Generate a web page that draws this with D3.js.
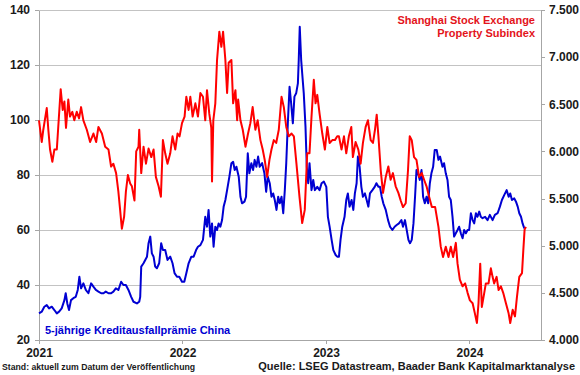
<!DOCTYPE html>
<html>
<head>
<meta charset="utf-8">
<script src="https://cdn.jsdelivr.net/npm/d3@7"></script>
<style>
  html, body { margin: 0; padding: 0; background: #fff; }
  svg { display: block; font-family: "Liberation Sans", Arial, sans-serif; }
  .axis text { font-size: 12px; font-weight: bold; fill: #1a1a1a; }
  .axis path, .axis line { stroke: #a6a6a6; }
</style>
</head>
<body>
<svg id="chart" width="580" height="375"></svg>
<script>
"use strict";

// 5-year CDS China (left axis), time as decimal years since 2021-01-01
const cdsYears = [
  0.000, 0.019, 0.037, 0.054, 0.070, 0.089, 0.107, 0.124, 0.140, 0.158, 0.177, 0.186, 0.197, 0.209,
  0.223, 0.239, 0.256, 0.270, 0.281, 0.293, 0.309, 0.326, 0.344, 0.363, 0.379, 0.396, 0.414, 0.433,
  0.449, 0.465, 0.484, 0.502, 0.518, 0.535, 0.553, 0.572, 0.588, 0.605, 0.623, 0.642, 0.658, 0.682,
  0.698, 0.705, 0.712, 0.728, 0.740, 0.752, 0.763, 0.775, 0.786, 0.798, 0.809, 0.821, 0.837, 0.851,
  0.863, 0.879, 0.895, 0.914, 0.930, 0.944, 0.961, 0.977, 0.996, 1.012, 1.026, 1.042, 1.061, 1.077,
  1.094, 1.107, 1.124, 1.142, 1.158, 1.170, 1.181, 1.193, 1.205, 1.216, 1.228, 1.240, 1.251, 1.263,
  1.275, 1.286, 1.298, 1.310, 1.326, 1.340, 1.352, 1.363, 1.375, 1.391, 1.403, 1.414, 1.431, 1.442,
  1.454, 1.465, 1.479, 1.491, 1.502, 1.514, 1.526, 1.537, 1.554, 1.570, 1.582, 1.593, 1.607, 1.619,
  1.631, 1.642, 1.654, 1.666, 1.677, 1.689, 1.701, 1.712, 1.722, 1.733, 1.745, 1.756, 1.768, 1.779,
  1.791, 1.803, 1.809, 1.816, 1.826, 1.833, 1.844, 1.856, 1.865, 1.875, 1.884, 1.898, 1.910, 1.921,
  1.938, 1.954, 1.968, 1.984, 2.001, 2.012, 2.024, 2.038, 2.050, 2.066, 2.077, 2.089, 2.100, 2.112,
  2.128, 2.140, 2.151, 2.163, 2.177, 2.189, 2.200, 2.212, 2.221, 2.233, 2.245, 2.256, 2.270, 2.282,
  2.294, 2.305, 2.322, 2.338, 2.350, 2.364, 2.375, 2.387, 2.398, 2.415, 2.431, 2.445, 2.461, 2.477,
  2.491, 2.507, 2.524, 2.535, 2.549, 2.561, 2.573, 2.584, 2.596, 2.608, 2.619, 2.629, 2.640, 2.652,
  2.664, 2.675, 2.687, 2.699, 2.710, 2.722, 2.733, 2.745, 2.756, 2.770, 2.782, 2.793, 2.810, 2.821,
  2.833, 2.845, 2.856, 2.868, 2.880, 2.891, 2.903, 2.915, 2.926, 2.938, 2.950, 2.961, 2.973, 2.985,
  2.996, 3.008, 3.020, 3.031, 3.043, 3.054, 3.066, 3.077, 3.089, 3.107, 3.124, 3.140, 3.159, 3.175,
  3.194, 3.210, 3.224, 3.240, 3.257, 3.271, 3.282, 3.294, 3.310, 3.322, 3.334, 3.345, 3.357, 3.368,
  3.380
];
const cdsValues = [
  29.7, 30.3, 32.1, 32.7, 31.5, 32.1, 30.9, 29.7, 30.3, 31.5, 34.5, 37.0, 33.3, 30.9,
  34.5, 35.2, 35.7, 38.2, 43.0, 38.8, 40.6, 38.2, 37.0, 40.6, 39.4, 38.2, 37.6, 37.0,
  37.0, 37.6, 37.0, 37.0, 37.6, 38.8, 38.2, 41.2, 40.0, 40.0, 38.2, 35.7, 33.9, 33.3,
  33.9, 35.7, 46.7, 47.9, 49.1, 50.3, 55.2, 57.6, 51.5, 50.3, 46.7, 46.1, 47.9, 55.2,
  52.7, 52.7, 49.1, 50.3, 47.9, 44.3, 43.0, 43.0, 41.2, 41.2, 44.3, 47.9, 50.3, 50.3,
  52.7, 53.9, 54.5, 56.4, 64.8, 61.2, 67.3, 57.6, 62.4, 53.9, 61.2, 60.0, 62.4, 61.2,
  63.6, 68.5, 70.9, 74.5, 79.4, 84.3, 84.8, 81.8, 83.0, 79.4, 72.1, 69.7, 70.3, 72.1,
  87.9, 80.6, 84.3, 81.8, 85.5, 83.0, 86.7, 83.0, 84.3, 80.6, 73.9, 79.4, 77.0, 72.1,
  73.3, 70.9, 67.3, 72.1, 69.7, 72.1, 66.1, 74.5, 84.3, 98.8, 112.1, 106.1, 98.8, 108.5,
  109.7, 113.3, 121.8, 133.9, 121.8, 117.0, 109.7, 97.6, 83.0, 77.0, 84.3, 74.5, 78.2, 74.5,
  75.7, 74.5, 77.0, 77.6, 75.7, 64.8, 61.2, 56.4, 52.7, 50.9, 50.3, 50.3, 56.4, 61.2,
  64.8, 70.9, 73.3, 68.5, 70.9, 67.3, 73.3, 77.0, 86.7, 83.0, 75.7, 72.1, 73.3, 70.9,
  68.5, 73.3, 74.5, 75.7, 77.0, 75.7, 75.7, 72.1, 69.7, 67.3, 63.6, 61.2, 60.0, 61.2,
  61.8, 62.4, 63.6, 61.2, 63.6, 60.0, 56.4, 55.2, 56.4, 62.4, 72.1, 81.8, 80.6, 78.2,
  81.8, 72.1, 69.7, 72.1, 69.7, 77.0, 80.6, 83.0, 89.1, 89.1, 85.5, 86.7, 83.0, 84.3,
  80.6, 78.2, 72.1, 70.9, 64.8, 57.6, 58.8, 60.0, 61.2, 58.8, 57.0, 60.0, 58.8, 60.0,
  60.0, 66.1, 63.6, 62.4, 66.1, 64.8, 66.7, 64.8, 64.3, 64.8, 63.6, 65.5, 63.6, 65.5,
  66.1, 68.5, 70.9, 72.7, 74.5, 72.1, 73.3, 70.9, 71.5, 70.3, 68.5, 66.1, 64.8, 62.4,
  60.6
];

// Shanghai Stock Exchange Property Subindex (right axis)
const idxYears = [
  0.000, 0.019, 0.030, 0.054, 0.065, 0.077, 0.093, 0.107, 0.124, 0.135, 0.151, 0.165, 0.177, 0.188,
  0.204, 0.216, 0.232, 0.246, 0.263, 0.279, 0.293, 0.309, 0.333, 0.356, 0.379, 0.398, 0.414, 0.438,
  0.461, 0.484, 0.502, 0.518, 0.537, 0.553, 0.565, 0.577, 0.593, 0.605, 0.619, 0.635, 0.647, 0.665,
  0.677, 0.693, 0.698, 0.712, 0.728, 0.745, 0.763, 0.782, 0.798, 0.814, 0.833, 0.849, 0.863, 0.879,
  0.895, 0.914, 0.930, 0.949, 0.965, 0.979, 0.996, 1.014, 1.026, 1.042, 1.054, 1.070, 1.089, 1.107,
  1.124, 1.142, 1.158, 1.170, 1.186, 1.200, 1.205, 1.214, 1.228, 1.240, 1.256, 1.270, 1.282, 1.298,
  1.310, 1.321, 1.340, 1.352, 1.368, 1.380, 1.387, 1.403, 1.419, 1.438, 1.456, 1.472, 1.488, 1.507,
  1.523, 1.542, 1.558, 1.572, 1.589, 1.605, 1.619, 1.635, 1.652, 1.670, 1.689, 1.705, 1.722, 1.740,
  1.759, 1.775, 1.793, 1.814, 1.833, 1.851, 1.868, 1.884, 1.898, 1.914, 1.926, 1.938, 1.954, 1.973,
  1.991, 2.008, 2.024, 2.043, 2.061, 2.077, 2.089, 2.107, 2.124, 2.140, 2.158, 2.175, 2.186, 2.205,
  2.224, 2.240, 2.256, 2.275, 2.291, 2.310, 2.326, 2.340, 2.352, 2.364, 2.380, 2.396, 2.415, 2.433,
  2.449, 2.465, 2.484, 2.503, 2.519, 2.535, 2.554, 2.570, 2.582, 2.596, 2.612, 2.629, 2.647, 2.666,
  2.682, 2.699, 2.717, 2.736, 2.759, 2.782, 2.798, 2.814, 2.833, 2.852, 2.868, 2.884, 2.903, 2.915,
  2.931, 2.950, 2.968, 2.985, 3.001, 3.020, 3.036, 3.050, 3.061, 3.073, 3.084, 3.101, 3.112, 3.131,
  3.147, 3.159, 3.170, 3.187, 3.201, 3.217, 3.233, 3.252, 3.271, 3.282, 3.299, 3.315, 3.329, 3.345,
  3.364, 3.373, 3.382, 3.391
];
const idxValues = [
  6330, 6100, 6230, 6460, 6230, 6020, 5890, 6020, 6020, 6280, 6660, 6440, 6530, 6250,
  6550, 6370, 6420, 6330, 6420, 6350, 6470, 6330, 6230, 6100, 6190, 6100, 6260, 6190,
  6050, 6020, 5840, 5870, 5770, 5570, 5380, 5180, 5310, 5570, 5750, 5660, 5630, 5480,
  6000, 6050, 6230, 5770, 6050, 5870, 6030, 5940, 6020, 5730, 5630, 5520, 6120, 5980,
  5870, 5980, 6160, 6020, 6190, 6160, 6300, 6370, 6580, 6440, 6580, 6370, 6510, 6370,
  6620, 6580, 6330, 6650, 6400, 6250, 5680, 6330, 6510, 6970, 7270, 7110, 7270, 6970,
  6620, 6940, 6970, 6510, 6650, 6330, 6550, 6330, 6230, 6050, 6190, 6300, 6470, 6230,
  6330, 6120, 6020, 5910, 5730, 5910, 6020, 6120, 6090, 6230, 6580, 6470, 6260, 6160,
  6190, 6160, 5870, 5520, 5240, 5380, 5980, 5980, 6370, 6760, 6510, 6600, 6400, 6190,
  6020, 6260, 6090, 6120, 6120, 6160, 6160, 6020, 6160, 5980, 6160, 6260, 5940, 6100,
  6020, 5870, 6090, 6260, 6330, 6120, 6090, 6230, 6390, 6160, 5800, 5560, 5730, 5840,
  5700, 5770, 5630, 5560, 5480, 5410, 5450, 5800, 6160, 6120, 5940, 5910, 5730, 5770,
  5700, 5630, 5520, 5410, 5410, 5200, 4990, 4880, 4990, 4880, 4990, 4880, 5030, 4810,
  4640, 4570, 4600, 4500, 4420, 4390, 4280, 4180, 4390, 4810, 4350, 4500, 4600, 4600,
  4760, 4670, 4600, 4670, 4530, 4570, 4500, 4390, 4280, 4180, 4320, 4250, 4460, 4670,
  4710, 4950, 5170, 5200
];

const leftTicks = [20, 40, 60, 80, 100, 120, 140];
const rightTicks = [4000, 4500, 5000, 5500, 6000, 6500, 7000, 7500];
const yearTicks = [2021, 2022, 2023, 2024];

const BLUE = "#0000d2";
const RED = "#ff0000";

const svg = d3.select("#chart");
const M = { left: 39, right: 541, top: 10, bottom: 340 };

const t0 = Date.UTC(2021, 0, 1);
const toDate = (t) => new Date(t0 + t * 365.25 * 864e5);

const x = d3.scaleUtc()
  .domain([new Date(Date.UTC(2021, 0, 1)), new Date(Date.UTC(2024, 6, 1))])
  .range([M.left, M.right]);
const yL = d3.scaleLinear().domain([20, 140]).range([M.bottom, M.top]);
const yR = d3.scaleLinear().domain([4000, 7500]).range([M.bottom, M.top]);

const de = d3.formatLocale({ decimal: ",", thousands: ".", grouping: [3], currency: ["", " €"] });
const fmtR = de.format(",.0f");

// gridlines (left-axis ticks)
svg.append("g")
  .selectAll("line")
  .data(leftTicks.filter((v) => v > 20))
  .join("line")
  .attr("x1", M.left).attr("x2", M.right)
  .attr("y1", (d) => yL(d)).attr("y2", (d) => yL(d))
  .attr("stroke", "#c3c3c3").attr("stroke-width", 1)
  .attr("shape-rendering", "crispEdges");

// axes
svg.append("g")
  .attr("class", "axis")
  .attr("transform", `translate(${M.left},0)`)
  .call(d3.axisLeft(yL).tickValues(leftTicks).tickSize(4).tickPadding(5).tickSizeOuter(0))
  .attr("shape-rendering", "crispEdges");

svg.append("g")
  .attr("class", "axis")
  .attr("transform", `translate(${M.right},0)`)
  .call(d3.axisRight(yR).tickValues(rightTicks).tickFormat(fmtR).tickSize(4).tickPadding(4).tickSizeOuter(0))
  .attr("shape-rendering", "crispEdges");

svg.append("g")
  .attr("class", "axis")
  .attr("transform", `translate(0,${M.bottom})`)
  .call(d3.axisBottom(x)
    .tickValues(yearTicks.map((y) => new Date(Date.UTC(y, 0, 1))))
    .tickFormat(d3.utcFormat("%Y"))
    .tickSize(4).tickPadding(4).tickSizeOuter(0))
  .attr("shape-rendering", "crispEdges");

// series
const cds = cdsYears.map((t, i) => [toDate(t), cdsValues[i]]);
const idx = idxYears.map((t, i) => [toDate(t), idxValues[i]]);

svg.append("path")
  .datum(cds)
  .attr("fill", "none")
  .attr("stroke", BLUE)
  .attr("stroke-width", 2)
  .attr("stroke-linejoin", "round")
  .attr("d", d3.line().x((d) => x(d[0])).y((d) => yL(d[1])));

svg.append("path")
  .datum(idx)
  .attr("fill", "none")
  .attr("stroke", RED)
  .attr("stroke-width", 2)
  .attr("stroke-linejoin", "round")
  .attr("d", d3.line().x((d) => x(d[0])).y((d) => yR(d[1])));

// labels
const label = (txt, xx, yy, opts) =>
  svg.append("text")
    .attr("x", xx).attr("y", yy)
    .attr("text-anchor", opts.anchor || "start")
    .attr("font-size", opts.size)
    .attr("font-weight", "bold")
    .attr("fill", opts.color)
    .text(txt);

label("Shanghai Stock Exchange", 535, 24, { anchor: "end", size: 11, color: "#e3141b" });
label("Property Subindex", 535, 37, { anchor: "end", size: 11, color: "#e3141b" });
label("5-jährige Kreditausfallprämie China", 45, 334, { size: 11, color: BLUE });
label("Stand: aktuell zum Datum der Veröffentlichung", 2, 370, { size: 8.7, color: "#1a1a1a" });
label("Quelle: LSEG Datastream, Baader Bank Kapitalmarktanalyse", 575, 370, { anchor: "end", size: 11, color: "#1a1a1a" });
</script>
</body>
</html>
